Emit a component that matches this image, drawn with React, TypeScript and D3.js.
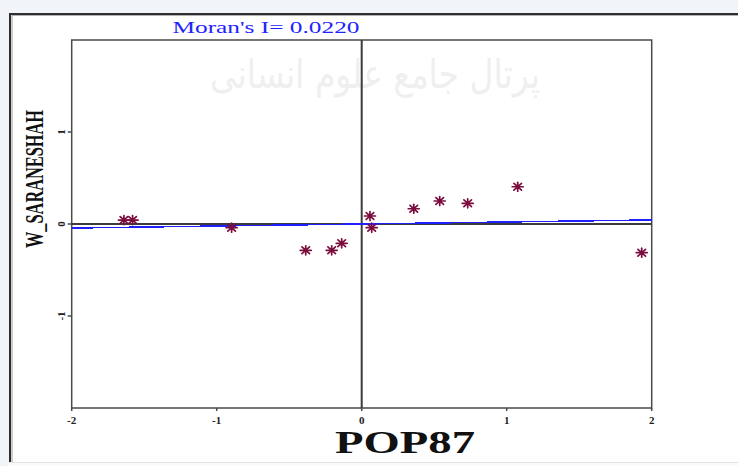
import React from "react";
import * as d3 from "d3";

const title = "Moran's I= 0.0220";
const moranI = 0.022;
const xLabel = "POP87";
const yLabel = "W_SARANESHAH";
const watermark = "پرتال جامع علوم انسانی";

const popValues = [-1.64, -1.58, -0.897, -0.386, -0.207, -0.138, 0.057, 0.069, 0.359, 0.538, 0.731, 1.076, 1.931];
const lagValues = [0.043, 0.043, -0.04, -0.286, -0.286, -0.21, 0.087, -0.04, 0.166, 0.25, 0.225, 0.405, -0.312];

const xTicks = [-2, -1, 0, 1, 2];
const yTicks = [-1, 0, 1];
const xDomain: [number, number] = [-2, 2];
const yDomain: [number, number] = [-2, 2];

const W = 738;
const H = 466;
const plot = { left: 71.7, right: 651.7, top: 40, bottom: 408 };

export default function App() {
  const x = d3.scaleLinear().domain(xDomain).range([plot.left, plot.right]);
  const y = d3.scaleLinear().domain(yDomain).range([plot.bottom, plot.top]);
  const line = d3
    .line<number>()
    .x((d) => x(d))
    .y((d) => y(d * moranI));
  const markerColor = "#7b0d3e";
  const r = 5;
  const axisColor = "#4a4a4a";

  return (
    <svg
      width={W}
      height={H}
      style={{ position: "absolute", left: 0, top: 0, background: "#ffffff" }}
    >
      {/* outer light bands */}
      <rect x={0} y={0} width={W} height={H} fill="#f1f4f9" />
      <rect x={9} y={13} width={W - 9} height={449} fill="#ffffff" />
      <line x1={10} y1={13} x2={10} y2={462} stroke="#2e2e2e" strokeWidth={2} />
      <line x1={12} y1={15} x2={12} y2={462} stroke="#9a9a9a" strokeWidth={1} />
      <line x1={9} y1={14} x2={W} y2={14} stroke="#2e2e2e" strokeWidth={2} />
      <line x1={12} y1={15.5} x2={W} y2={15.5} stroke="#b0b0b0" strokeWidth={1} />
      <line x1={9} y1={462.5} x2={W} y2={462.5} stroke="#e4e4e4" strokeWidth={1} />
      <rect x={9} y={463} width={W - 9} height={3} fill="#fafafa" />

      {/* watermark */}
      <text
        x={375}
        y={88}
        textAnchor="middle"
        fontFamily="DejaVu Sans"
        fontSize={40}
        fill="#efefef"
        direction="rtl"
        textLength={330}
        lengthAdjust="spacingAndGlyphs"
      >
        {watermark}
      </text>

      {/* title */}
      <text
        x={172.5}
        y={32.5}
        fontFamily="Liberation Serif, serif"
        fontSize={16}
        fill="#2323ff"
        textLength={187}
        lengthAdjust="spacingAndGlyphs"
      >
        {title}
      </text>

      {/* plot frame */}
      <rect
        x={plot.left}
        y={plot.top}
        width={plot.right - plot.left}
        height={plot.bottom - plot.top}
        fill="none"
        stroke={axisColor}
        strokeWidth={1.5}
      />

      {/* zero lines */}
      <line x1={x(0)} y1={plot.top} x2={x(0)} y2={plot.bottom} stroke="#3c3c3c" strokeWidth={2} />
      <line x1={plot.left} y1={y(0)} x2={plot.right} y2={y(0)} stroke="#3c3c3c" strokeWidth={2} />

      {/* regression line */}
      <path
        d={line(xDomain) || ""}
        fill="none"
        stroke="#2020ff"
        strokeWidth={1.5}
        shapeRendering="crispEdges"
      />

      {/* x ticks */}
      {xTicks.map((t) => (
        <g key={"xt" + t}>
          <line x1={x(t)} y1={plot.bottom} x2={x(t)} y2={plot.bottom + 3} stroke={axisColor} strokeWidth={1.5} />
          <text
            x={x(t)}
            y={424}
            textAnchor="middle"
            fontFamily="Liberation Serif, serif"
            fontWeight="bold"
            fontSize={11}
            fill="#222"
          >
            {t}
          </text>
        </g>
      ))}

      {/* y ticks */}
      {yTicks.map((t) => (
        <g key={"yt" + t}>
          <line x1={plot.left - 4} y1={y(t)} x2={plot.left} y2={y(t)} stroke={axisColor} strokeWidth={1.5} />
          <text
            transform={`translate(${65},${y(t)}) rotate(-90)`}
            textAnchor="middle"
            fontFamily="Liberation Serif, serif"
            fontWeight="bold"
            fontSize={11}
            fill="#222"
          >
            {t}
          </text>
        </g>
      ))}

      {/* axis labels */}
      <text
        x={335}
        y={453}
        fontFamily="Liberation Serif, serif"
        fontWeight="bold"
        fontSize={31}
        fill="#111"
        textLength={140}
        lengthAdjust="spacingAndGlyphs"
      >
        {xLabel}
      </text>
      <text
        transform={`translate(${43},${248}) rotate(-90)`}
        fontFamily="Liberation Serif, serif"
        fontWeight="bold"
        fontSize={25}
        fill="#111"
        textLength={138}
        lengthAdjust="spacingAndGlyphs"
      >
        {yLabel}
      </text>

      {/* points */}
      {popValues.map((v, i) => {
        const cx = x(v);
        const cy = y(lagValues[i]);
        return (
          <g key={"p" + i} stroke={markerColor} strokeWidth={1.7} strokeLinecap="round">
            <line x1={cx - r - 0.5} y1={cy} x2={cx + r + 0.5} y2={cy} />
            <line x1={cx} y1={cy - r + 0.5} x2={cx} y2={cy + r - 0.5} />
            <line x1={cx - 3.8} y1={cy - 3.4} x2={cx + 3.8} y2={cy + 3.4} />
            <line x1={cx - 3.8} y1={cy + 3.4} x2={cx + 3.8} y2={cy - 3.4} />
            <circle cx={cx} cy={cy} r={2.2} fill={markerColor} stroke="none" />
          </g>
        );
      })}
    </svg>
  );
}
